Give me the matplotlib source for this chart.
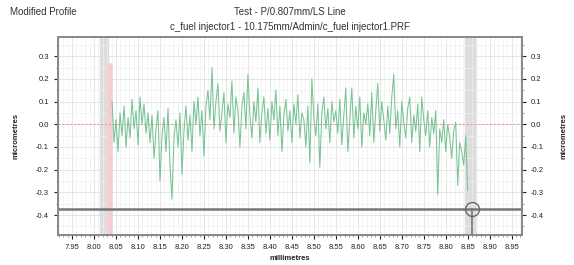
import numpy as np
import matplotlib
matplotlib.use("Agg")
import matplotlib.pyplot as plt
from matplotlib.ticker import MultipleLocator

plt.rcParams['font.family'] = ['Liberation Sans', 'DejaVu Sans']

# profile samples (micrometres), evenly spaced along the trace
x_start = 8.041
x_step = 0.004545
profile = [
    0.10, -0.08, 0.02, -0.12, 0.05, -0.05, 0.08, -0.10, 0.03, -0.06,
    0.11, -0.02, 0.06, -0.09, 0.12, 0.00, 0.09, -0.04, 0.05,
    -0.08, 0.04, -0.15, -0.02, 0.06, -0.25, -0.05, 0.03, -0.12, 0.07,
    -0.18, -0.33, -0.06, 0.02, -0.10, 0.05, -0.22, -0.03, 0.08, -0.07,
    0.04, -0.12, 0.10, 0.00, 0.12, -0.05, 0.06, -0.14, 0.08, 0.15,
    0.02, 0.25, -0.02, 0.10, 0.18, -0.03, 0.05, 0.14, -0.08, 0.09,
    0.03, 0.19, -0.04, 0.12, 0.06, -0.10, 0.08, 0.14, -0.02, 0.22,
    0.04, -0.06, 0.10, 0.01, 0.16, -0.08, 0.05, 0.12, -0.04, 0.07,
    -0.07, 0.10, 0.02, 0.15, -0.05, 0.08, -0.12, 0.04, 0.11, -0.03,
    0.06, -0.08, 0.09, 0.00, 0.13, -0.06, 0.05, 0.02, -0.10, 0.08,
    -0.17, 0.20, 0.03, -0.05, 0.09, -0.19, 0.05, 0.12, -0.02, 0.07,
    -0.08, 0.10, 0.01, 0.06, -0.04, 0.11, -0.09, 0.04, 0.16, -0.12,
    0.02, 0.16, -0.06, 0.08, -0.02, 0.12, -0.10, 0.05, 0.00, 0.09,
    -0.05, 0.14, -0.08, 0.06, 0.18, -0.03, 0.10, 0.02, -0.07, 0.08,
    -0.04, 0.12, 0.22, -0.02, 0.06, -0.10, 0.10, 0.01, -0.06, 0.07,
    0.12, -0.08, 0.04, -0.03, 0.09, -0.12, 0.12, 0.02, -0.05, 0.06,
    -0.10, 0.03, -0.04, 0.06, -0.31, -0.02, -0.08, 0.02, -0.12, 0.00,
    -0.06, -0.15, -0.03, 0.01, -0.27, -0.08, -0.12, -0.18, -0.05, -0.29,
]

x_ticks = [7.95, 8.00, 8.05, 8.10, 8.15, 8.20, 8.25, 8.30, 8.35, 8.40, 8.45,
           8.50, 8.55, 8.60, 8.65, 8.70, 8.75, 8.80, 8.85, 8.90, 8.95]
y_ticks = [0.3, 0.2, 0.1, 0.0, -0.1, -0.2, -0.3, -0.4]

left_band = (8.014, 8.032)
right_band = (8.845, 8.868)
cursor_x = 8.859
cursor_y = -0.372
start_mark = 8.036

x = x_start + x_step * np.arange(len(profile))

fig = plt.figure(figsize=(5.74, 2.65), dpi=100)
ax = fig.add_axes([0.101, 0.113, 0.808, 0.747])

ax.set_xlim(7.918, 8.973)
ax.set_ylim(-0.488, 0.384)

ax.axvspan(*left_band, color='#dddddd', zorder=0)
ax.axvspan(*right_band, color='#dddddd', zorder=0)
ax.plot([start_mark, start_mark], [-0.488, 0.255], color='#f4cdd3', lw=4, zorder=1)

ax.xaxis.set_minor_locator(MultipleLocator(0.01))
ax.yaxis.set_minor_locator(MultipleLocator(0.05))
ax.grid(which='major', color='#e0e0e0', lw=0.6)
ax.grid(which='minor', color='#f0f0f0', lw=0.5)
ax.set_axisbelow(True)

ax.axhline(0.0, color='#f09090', lw=0.7, ls=(0, (2, 2)), zorder=1)
ax.plot(x, profile, color='#78c494', lw=0.75, zorder=2)

ax.axhline(cursor_y, color='#777777', lw=1.8, zorder=3)
ax.plot([cursor_x, cursor_x], [-0.488, cursor_y], color='#777777', lw=1.2, zorder=3)
ax.plot([cursor_x], [cursor_y], marker='o', ms=10, mfc='none', mec='#666666', mew=1.0, zorder=4)

ax.set_xticks(x_ticks)
ax.set_xticklabels([f"{v:.2f}" for v in x_ticks])
ax.set_yticks(y_ticks)
ax.set_yticklabels([f"{v:.1f}" for v in y_ticks])
ax.tick_params(labelsize=5.5, colors='#222222', length=3, width=0.8)
ax.tick_params(which='minor', length=1.5, width=0.5, colors='#777777')
for s in ax.spines.values():
    s.set_color('#888888')
    s.set_linewidth(1.2)

ax2 = ax.twinx()
ax2.set_ylim(ax.get_ylim())
ax2.set_yticks(y_ticks)
ax2.set_yticklabels([f"{v:.1f}" for v in y_ticks])
ax2.yaxis.set_minor_locator(MultipleLocator(0.05))
ax2.tick_params(labelsize=5.5, colors='#222222', length=3, width=0.8)
ax2.tick_params(which='minor', length=1.5, width=0.5, colors='#777777')
for s in ax2.spines.values():
    s.set_color('#888888')
    s.set_linewidth(1.2)

ax.set_ylabel('micrometres', fontsize=5.5, color='#222222', labelpad=12, fontweight='bold')
ax2.set_ylabel('micrometres', fontsize=5.5, color='#222222', labelpad=12, rotation=90,
               fontweight='bold')
ax.set_xlabel('millimetres', fontsize=5.5, color='#222222', labelpad=3, fontweight='bold')

fig.text(0.018, 0.955, 'Modified Profile', fontsize=7, color='#333333', va='center')
fig.text(0.505, 0.955, 'Test - P/0.807mm/LS Line', fontsize=7, color='#333333',
         ha='center', va='center')
fig.text(0.505, 0.900, 'c_fuel injector1 - 10.175mm/Admin/c_fuel injector1.PRF',
         fontsize=7, color='#333333', ha='center', va='center')

fig.savefig('out.png', dpi=100)
